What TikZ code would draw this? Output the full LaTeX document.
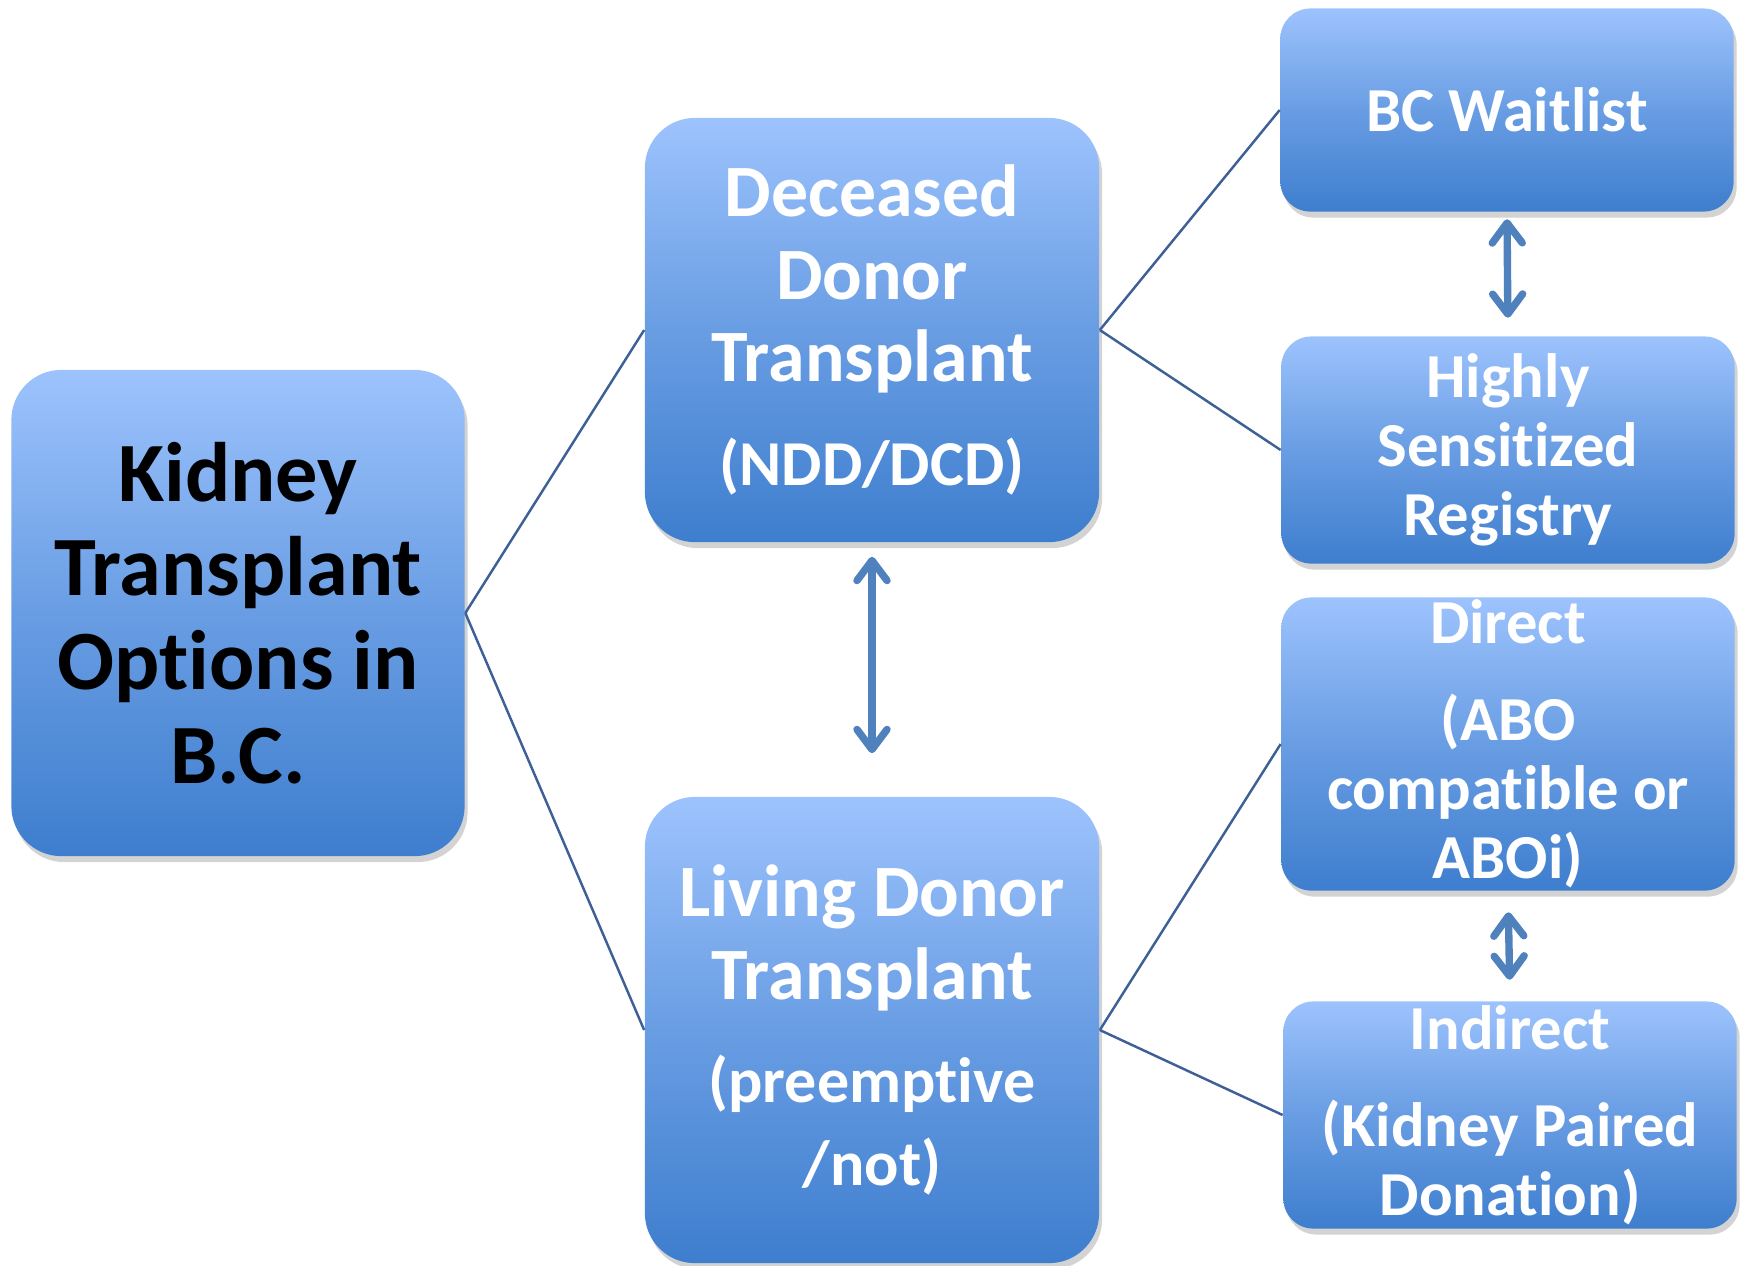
\documentclass[tikz,border=0pt]{standalone}
\usepackage{fontspec}
\setmainfont{Carlito}[RawFeature={-liga;-clig;-rlig;-calt;-dlig;-ccmp}]
\usetikzlibrary{arrows.meta, shadows}
\definecolor{boxtop}{RGB}{157, 195, 253}
\definecolor{boxbot}{RGB}{62, 126, 206}
\definecolor{linkblue}{RGB}{62, 96, 150}
\definecolor{arrowblue}{RGB}{79, 129, 189}
\newcommand{\subline}{\fontsize{18.2}{20}\selectfont}

\begin{document}
\begin{tikzpicture}[x=0.01cm, y=-0.01cm,
    option/.style={rectangle, rounded corners=0.5cm, top color=boxtop, bottom color=boxbot,
                   middle color=boxtop!45!boxbot, align=center, text=white, inner sep=0pt,
                   drop shadow={shadow xshift=0.03cm, shadow yshift=-0.06cm, opacity=0.35}},
    route/.style={option, rounded corners=0.3cm, minimum width=4.53cm,
                  font=\fontsize{17.8}{19.6}\selectfont\bfseries},
    link/.style={draw=linkblue, line width=0.7pt},
    twoway/.style={draw=arrowblue, line width=2.1pt, line cap=round,
                   {Straight Barb[round, length=2mm, width=3mm]}-{Straight Barb[round, length=2mm, width=3mm]}}]

    \useasboundingbox (0, 0) rectangle (1750, 1265);

    % Root
    \node[option, text=black, minimum width=4.53cm, minimum height=4.86cm,
          font=\fontsize{24}{26.7}\selectfont\bfseries] (kidney) at (238, 613)
          {Kidney\\Transplant\\Options in\\B.C.};

    % Donor types
    \node[option, minimum width=4.54cm, minimum height=4.24cm,
          font=\fontsize{21}{23.5}\selectfont\bfseries] (deceased) at (872, 330)
          {Deceased\\Donor\\Transplant\\[6pt]\subline(NDD/DCD)};
    \node[option, minimum width=4.54cm, minimum height=4.66cm,
          font=\fontsize{21}{23.5}\selectfont\bfseries] (living) at (872, 1030)
          {Living Donor\\Transplant\\[6pt]\subline(preemptive\\\subline/not)};

    % Routes
    \node[route, minimum height=2.03cm] (waitlist) at (1507, 110) {BC Waitlist};
    \node[route, minimum height=2.27cm] (hsr) at (1508, 450) {Highly\\Sensitized\\Registry};
    \node[route, minimum height=2.93cm] (direct) at (1508, 744)
          {Direct\\[8pt](ABO\\compatible or\\ABOi)};
    \node[route, minimum height=2.27cm] (indirect) at (1510, 1115)
          {Indirect\\[8pt](Kidney Paired\\Donation)};

    % Connections
    \draw[link] (kidney.east) -- (deceased.west);
    \draw[link] (kidney.east) -- (living.west);
    \draw[link] (deceased.east) -- (waitlist.west);
    \draw[link] (deceased.east) -- (hsr.west);
    \draw[link] (living.east) -- (direct.west);
    \draw[link] (living.east) -- (indirect.west);

    % Two-way arrows
    \draw[twoway, shorten <=0.14cm, shorten >=0.43cm] (deceased.south) -- (living.north);
    \draw[twoway, shorten <=0.07cm, shorten >=0.18cm] (waitlist.south) -- (hsr.north);
    \draw[twoway, shorten <=0.21cm, shorten >=0.21cm] (direct.south) -- (indirect.north);
\end{tikzpicture}
\end{document}
